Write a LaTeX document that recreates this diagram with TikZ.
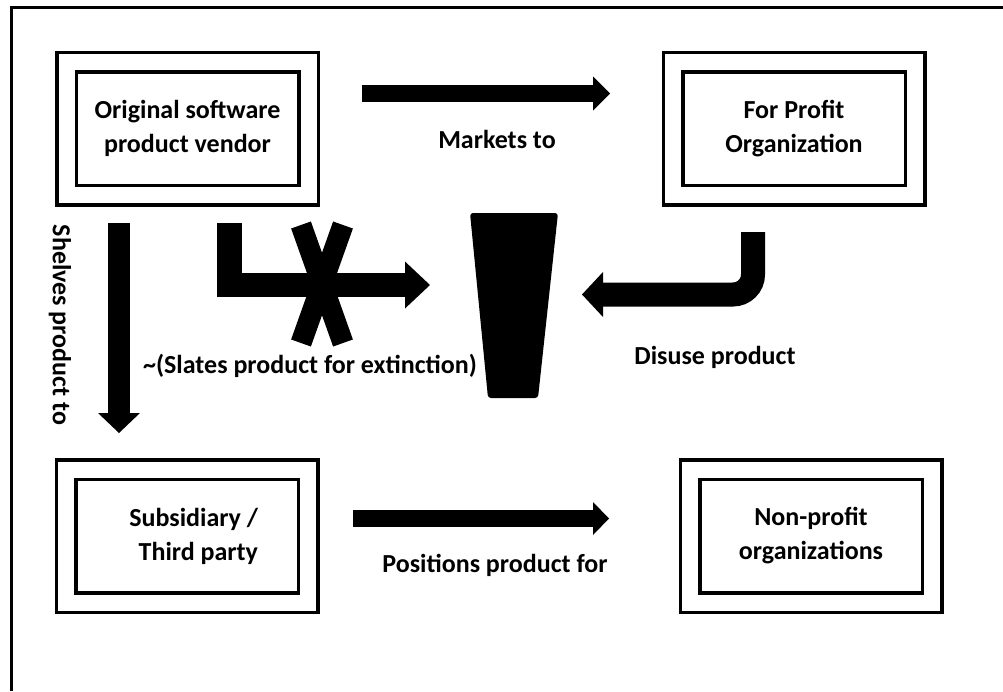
\documentclass[tikz,border=0pt]{standalone}
\usepackage{fontspec}
\setmainfont{Carlito}
\usetikzlibrary{arrows.meta,positioning}

\begin{document}
\begin{tikzpicture}[
    x=1pt, y=-1pt,
    frame/.style={draw, double, double distance=16pt, line width=3.5pt, minimum width=242pt, minimum height=133pt, align=center, font=\fontsize{26}{34}\selectfont\bfseries},
    lbl/.style={font=\fontsize{26}{34}\selectfont\bfseries, inner sep=0pt},
    fat/.style n args={3}{line width=#1, -{Triangle[length=#2, width=#3, line width=0pt 0 0]}}
]
    \useasboundingbox (0,0) rectangle (1003,691);
    \draw[line width=3pt] (11,691) -- (11,7.5) -- (1003,7.5);

    \node[frame] (vendor) at (187.5,128.5) {Original software\\product vendor};
    \node[frame] (forprofit) at (794,128.5) {For Profit\\Organization};
    \node[frame, align=flush right, text width=142pt] (subsidiary) at (187,536) {Subsidiary /\\Third party};
    \node[frame] (nonprofit) at (811,536) {Non-profit\\organizations};

    % arrow ends
    \coordinate (mkA) at (362,93.5);
    \coordinate (mkB) at (610,93.5);
    \coordinate (shA) at (119,223);
    \coordinate (shB) at (119,433);
    \coordinate (slA) at (229.5,223);
    \coordinate (slB) at (430,285);
    \coordinate (duA) at (753,232);
    \coordinate (duB) at (582,294.5);
    \coordinate (poA) at (353,518.5);
    \coordinate (poB) at (609,518.5);

    \draw[fat={17pt}{17pt}{34pt}] (mkA) -- (mkB);
    \draw[fat={22pt}{20pt}{42pt}] (shA) -- (shB);
    \draw[fat={24.5pt}{25pt}{47pt}, line join=miter] (slA) |- (slB);
    \draw[fat={24pt}{21pt}{45pt}, rounded corners=20pt] (duA) |- (duB);
    \draw[fat={17pt}{16pt}{33pt}] (poA) -- (poB);

    % crossed out
    \draw[line width=21pt] (301,225) -- (343,343) (343,225) -- (301,343);

    % funnel
    \fill[rounded corners=3pt] (470,213) -- (558,213) -- (538,398) -- (488,398) -- cycle;

    \node[lbl] (markets) at (497,139.5) {Markets to};
    \node[lbl, rotate=-90] (shelves) at (60,325) {Shelves product to};
    \node[lbl] (slates) at (310,366) {\textasciitilde(Slates product for extinction)};
    \node[lbl] (disuse) at (715,357) {Disuse product};
    \node[lbl] (positions) at (495,565) {Positions product for};
\end{tikzpicture}
\end{document}
